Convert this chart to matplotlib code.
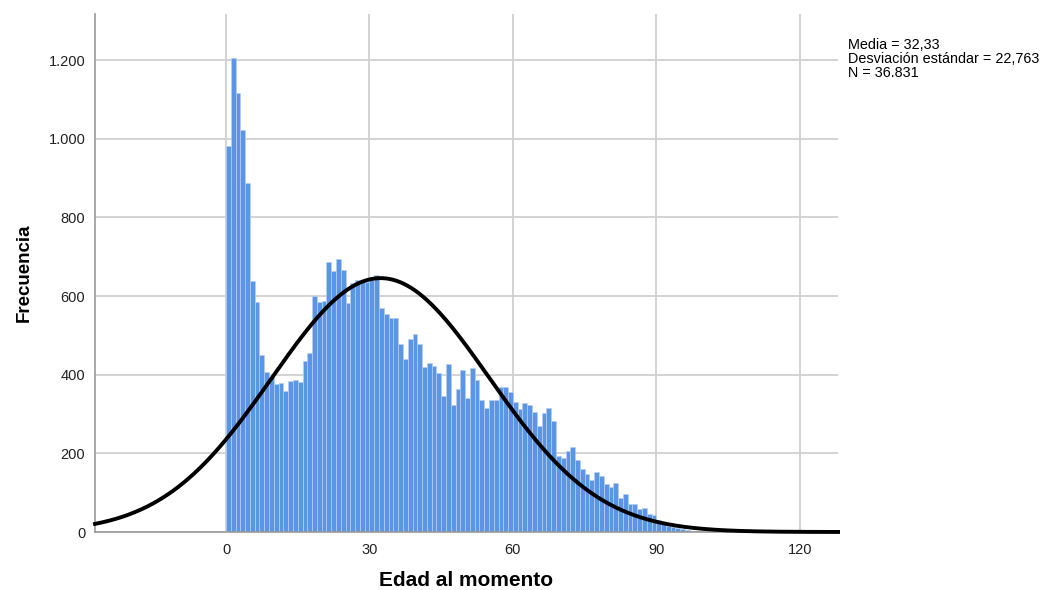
import matplotlib.pyplot as plt
import numpy as np

# --- data ---
ages = list(range(0, 100))
counts = [981, 1204, 1117, 1023, 887, 639, 584, 451, 406, 395,
          377, 379, 358, 383, 387, 382, 434, 456, 600, 585,
          587, 687, 664, 694, 666, 581, 632, 640, 636, 636,
          640, 653, 570, 554, 543, 545, 478, 441, 490, 503,
          478, 419, 429, 422, 405, 345, 427, 324, 363, 411,
          340, 418, 387, 336, 316, 336, 336, 369, 369, 356,
          331, 312, 329, 324, 304, 269, 302, 314, 282, 193,
          187, 207, 217, 183, 159, 147, 132, 153, 143, 122,
          115, 124, 86, 96, 71, 71, 58, 62, 47, 43,
          30, 22, 16, 12, 9, 7, 5, 3, 2, 1]
media = 32.33
desv = 22.763
n_total = 36831

x_ticks = [0, 30, 60, 90, 120]
y_ticks = [0, 200, 400, 600, 800, 1000, 1200]
y_labels = ['0', '200', '400', '600', '800', '1.000', '1.200']

plt.rcParams['font.family'] = ['Liberation Sans', 'DejaVu Sans']

fig = plt.figure(figsize=(10.43, 5.9), dpi=100)
ax = fig.add_axes([0.0911, 0.0983, 0.7124, 0.878])

ax.bar(ages, counts, width=1, align='edge', color='#5b95e5',
       edgecolor='#b5d0f2', linewidth=0.5, zorder=2)

# normal curve
xs = np.linspace(-27.4, 128, 600)
ys = n_total * 1.0 / (desv * np.sqrt(2 * np.pi)) * np.exp(-0.5 * ((xs - media) / desv) ** 2)
ax.plot(xs, ys, color='black', linewidth=2.8, zorder=3, clip_on=False)

ax.set_xlim(-27.4, 128)
ax.set_ylim(0, 1317)
ax.set_xticks(x_ticks)
ax.set_yticks(y_ticks)
ax.set_yticklabels(y_labels)
ax.tick_params(length=0, labelsize=10.5, colors='#222222', pad=7)
ax.tick_params(axis='x', pad=8)

ax.grid(True, color='#d0d0d0', linewidth=1.3, zorder=0)
ax.set_axisbelow(True)
for s in ['top', 'right']:
    ax.spines[s].set_visible(False)
for s in ['left', 'bottom']:
    ax.spines[s].set_color('#9a9a9a')
    ax.spines[s].set_linewidth(1.2)

ax.set_xlabel('Edad al momento', fontsize=15, fontweight='bold', labelpad=10)
ax.set_ylabel('Frecuencia', fontsize=13.5, fontweight='bold', labelpad=11)

fig.text(0.813, 0.9, 'Media = 32,33\nDesviación estándar = 22,763\nN = 36.831',
         fontsize=10.4, va='center', ha='left', linespacing=1.0)

fig.savefig('out.png', dpi=100)
